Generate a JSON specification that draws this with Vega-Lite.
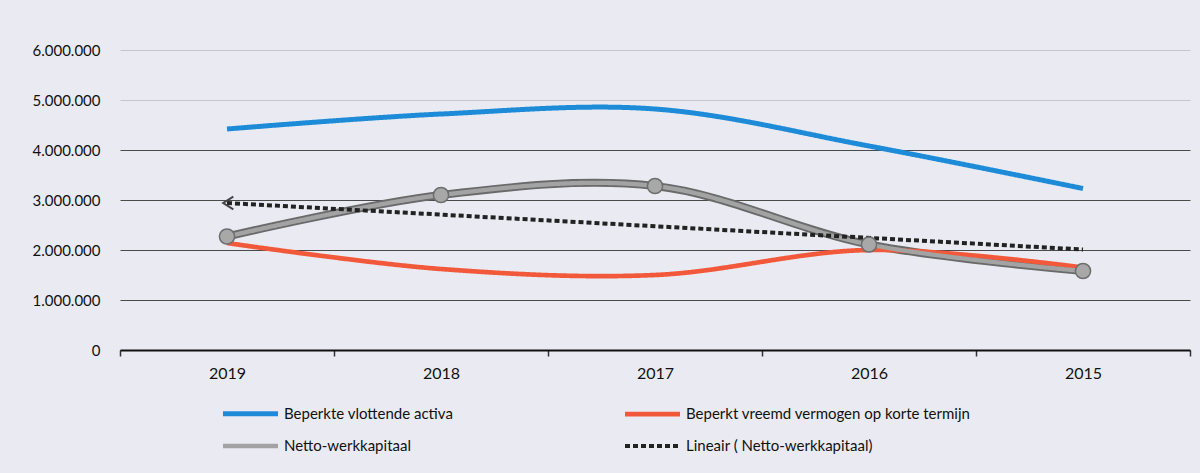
{
  "$schema": "https://vega.github.io/schema/vega-lite/v6.json",
  "width": 1070,
  "height": 300,
  "autosize": {"type": "none"},
  "padding": {"left": 120, "top": 50, "right": 10, "bottom": 123},
  "background": "#eaebf2",
  "config": {
    "locale": {"number": {"decimal": ",", "thousands": ".", "grouping": [3], "currency": ["€", ""]}},
    "view": {"stroke": null},
    "font": "Lato"
  },
  "datasets": {
    "main": [
      {"year": "2019", "series": "Beperkte vlottende activa", "value": 4420000},
      {"year": "2018", "series": "Beperkte vlottende activa", "value": 4720000},
      {"year": "2017", "series": "Beperkte vlottende activa", "value": 4820000},
      {"year": "2016", "series": "Beperkte vlottende activa", "value": 4080000},
      {"year": "2015", "series": "Beperkte vlottende activa", "value": 3230000},
      {"year": "2019", "series": "Beperkt vreemd vermogen op korte termijn", "value": 2140000},
      {"year": "2018", "series": "Beperkt vreemd vermogen op korte termijn", "value": 1620000},
      {"year": "2017", "series": "Beperkt vreemd vermogen op korte termijn", "value": 1500000},
      {"year": "2016", "series": "Beperkt vreemd vermogen op korte termijn", "value": 2000000},
      {"year": "2015", "series": "Beperkt vreemd vermogen op korte termijn", "value": 1650000},
      {"year": "2019", "series": "Netto-werkkapitaal", "value": 2270000},
      {"year": "2018", "series": "Netto-werkkapitaal", "value": 3100000},
      {"year": "2017", "series": "Netto-werkkapitaal", "value": 3280000},
      {"year": "2016", "series": "Netto-werkkapitaal", "value": 2110000},
      {"year": "2015", "series": "Netto-werkkapitaal", "value": 1580000},
      {"year": "2019", "series": "Lineair ( Netto-werkkapitaal)", "value": 2940000},
      {"year": "2015", "series": "Lineair ( Netto-werkkapitaal)", "value": 2010000}
    ]
  },
  "data": {"name": "main"},
  "encoding": {
    "x": {
      "field": "year",
      "type": "nominal",
      "sort": ["2019", "2018", "2017", "2016", "2015"],
      "bandPosition": 0.5,
      "scale": {"type": "band", "paddingInner": 0, "paddingOuter": 0},
      "axis": {
        "title": null,
        "labelAngle": 0,
        "labelFont": "Lato",
        "labelFontSize": 16,
        "labelColor": "#111",
        "labelPadding": 9,
        "domainColor": "#111",
        "domainWidth": 2,
        "tickBand": "extent",
        "tickColor": "#333",
        "tickSize": 6,
        "tickWidth": 1.5,
        "grid": false
      }
    },
    "y": {
      "field": "value",
      "type": "quantitative",
      "scale": {"domain": [0, 6000000], "nice": false},
      "axis": {
        "title": null,
        "values": [0, 1000000, 2000000, 3000000, 4000000, 5000000, 6000000],
        "format": ",.0f",
        "labelFont": "Lato",
        "labelFontSize": 15,
        "labelColor": "#111",
        "labelPadding": 20,
        "domain": false,
        "ticks": false,
        "grid": true,
        "gridColor": {"condition": {"test": "datum.value >= 5000000", "value": "#c4c5cf"}, "value": "#4a4a4a"},
        "gridWidth": 1.2
      }
    }
  },
  "layer": [
    {
      "transform": [{"filter": "datum.series === 'Netto-werkkapitaal'"}],
      "mark": {"type": "line", "interpolate": "catmull-rom", "color": "#6a6a6a", "strokeWidth": 8},
      "encoding": {}
    },
    {
      "mark": {"type": "line", "interpolate": "catmull-rom"},
      "encoding": {
        "color": {
          "field": "series",
          "type": "nominal",
          "scale": {
            "domain": ["Beperkte vlottende activa", "Beperkt vreemd vermogen op korte termijn", "Netto-werkkapitaal", "Lineair ( Netto-werkkapitaal)"],
            "range": ["#1e8bd8", "#f2583a", "#a3a3a3", "#222222"]
          },
          "legend": {
            "title": null,
            "orient": "none",
            "legendX": 114,
            "legendY": 347,
            "direction": "horizontal",
            "columns": 2,
            "columnPadding": 161,
            "rowPadding": 6,
            "symbolType": "M-2,0H2",
            "symbolSize": 756,
            "symbolStrokeWidth": 5,
            "labelFont": "Lato",
            "labelFontSize": 15,
            "labelColor": "#111",
            "labelOffset": 17,
            "labelLimit": 400
          }
        },
        "strokeDash": {
          "field": "series",
          "type": "nominal",
          "scale": {
            "domain": ["Beperkte vlottende activa", "Beperkt vreemd vermogen op korte termijn", "Netto-werkkapitaal", "Lineair ( Netto-werkkapitaal)"],
            "range": [[1, 0], [1, 0], [1, 0], [5, 3]]
          }
        },
        "strokeWidth": {
          "field": "series",
          "type": "nominal",
          "scale": {
            "domain": ["Beperkte vlottende activa", "Beperkt vreemd vermogen op korte termijn", "Netto-werkkapitaal", "Lineair ( Netto-werkkapitaal)"],
            "range": [5, 4, 5, 2]
          }
        }
      }
    },
    {
      "transform": [{"filter": "datum.series === 'Netto-werkkapitaal'"}],
      "mark": {"type": "point", "shape": "circle", "filled": true, "size": 230, "fill": "#a8a8a8", "stroke": "#6e6e6e", "strokeWidth": 1.5, "opacity": 1},
      "encoding": {}
    },
    {
      "transform": [{"filter": "datum.series === 'Lineair ( Netto-werkkapitaal)' && datum.year === '2019'"}],
      "mark": {"type": "point", "shape": "M1,-1L-0.6,0L1,1", "filled": false, "size": 160, "stroke": "#444", "strokeWidth": 2, "opacity": 1},
      "encoding": {}
    }
  ]
}
